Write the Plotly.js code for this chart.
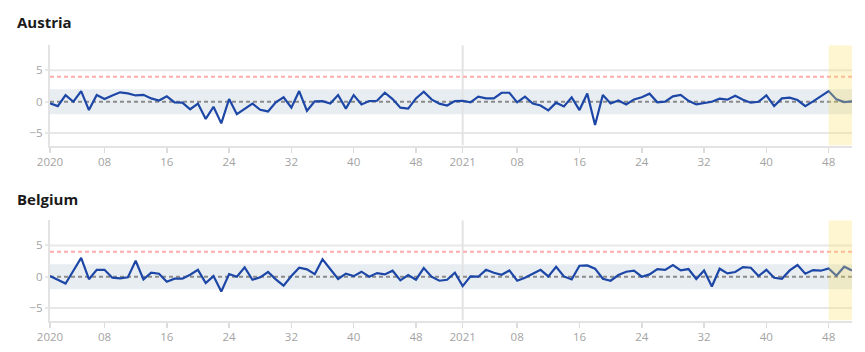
<!DOCTYPE html>
<html>
<head>
<meta charset="utf-8">
<script src="https://cdn.plot.ly/plotly-3.0.1.min.js"></script>
<style>
  html, body { margin: 0; padding: 0; background: #fff; }
  #chart { width: 865px; height: 352px; }
</style>
</head>
<body>
<div id="chart"></div>
<script>
// ISO weeks: 2020 W01..W53, 2021 W01..W51
const weeks = [];
for (let w = 1; w <= 53; w++) weeks.push('2020-W' + String(w).padStart(2, '0'));
for (let w = 1; w <= 51; w++) weeks.push('2021-W' + String(w).padStart(2, '0'));

const tickWeeks = ['2020-W01','2020-W08','2020-W16','2020-W24','2020-W32','2020-W40','2020-W48',
                   '2021-W01','2021-W08','2021-W16','2021-W24','2021-W32','2021-W40','2021-W48'];
const tickLabels = ['2020','08','16','24','32','40','48','2021','08','16','24','32','40','48'];

const austria = [
  -0.27, -0.7, 1.06, 0, 1.7, -1.33, 1.06, 0.43, 1.0, 1.5,
  1.33, 1.0, 1.1, 0.53, 0.2, 0.85, -0.1, -0.15, -1.2, -0.3,
  -2.75, -0.8, -3.45, 0.43, -2.0, -1.17, -0.3, -1.28, -1.55, -0.1,
  0.7, -0.95, 1.7, -1.45, 0.05, 0.1, -0.3, 1.06, -1.1, 1.06,
  -0.43, 0.1, 0.15, 1.43, 0.43, -0.95, -1.1, 0.53, 1.6, 0.37,
  -0.3, -0.6, 0.1, 0.15, -0.1, 0.8, 0.53, 0.53, 1.43, 1.43,
  -0.1, 0.8, -0.3, -0.6, -1.38, -0.15, -0.75, 0.7, -1.33, 1.3,
  -3.7, 1.06, -0.27, 0.2, -0.43, 0.37, 0.7, 1.28, -0.1, 0,
  0.85, 1.1, 0.15, -0.43, -0.2, 0, 0.48, 0.32, 0.96, 0.32,
  -0.15, 0, 1.0, -0.7, 0.53, 0.64, 0.27, -0.7, 0.05, 0.85,
  1.7, 0.37, -0.05, 0.05
];

const belgium = [
  0.1, -0.5, -1.1, 0.95, 3.0, -0.4, 1.1, 1.1, -0.15, -0.27,
  -0.1, 2.55, -0.43, 0.64, 0.48, -0.8, -0.32, -0.32, 0.32, 1.1,
  -1.0, 0.1, -2.35, 0.43, 0, 1.5, -0.48, -0.1, 0.75, -0.43,
  -1.43, 0.1, 1.43, 1.17, 0.4, 2.77, 1.2, -0.35, 0.48, 0.1,
  0.8, 0, 0.58, 0.37, 0.96, -0.58, 0.27, -0.48, 1.38, 0,
  -0.64, -0.48, 0.64, -1.5, 0.05, 0, 1.1, 0.64, 0.32, 1.0,
  -0.64, -0.15, 0.48, 1.1, 0.05, 1.6, 0.05, -0.43, 1.75, 1.8,
  1.28, -0.32, -0.64, 0.27, 0.8, 0.96, 0, 0.37, 1.22, 1.1,
  1.86, 1.0, 1.22, -0.37, 1.0, -1.55, 1.28, 0.53, 0.75, 1.54,
  1.43, 0.1, 1.1, -0.16, -0.32, 1.0, 1.86, 0.48, 1.06, 0.96,
  1.33, 0.16, 1.6, 1.0
];

const countries = ['Austria', 'Belgium'];
const series = [austria, belgium];

const bandLow = -2, bandHigh = 2, threshold = 4;
const highlightStart = '2021-W48';

const W = 865, H = 352;
const xDomain = [50 / W, 852 / W];
const yDomains = [[1 - 145.6 / H, 1 - 45.3 / H], [1 - 320.6 / H, 1 - 220.3 / H]];
const titleY = [1 - 22 / H, 1 - 199 / H];
const yRange = [-7, 9];

const lineColor = '#1d47a6';
const gridColor = '#e8e8e8';
const tickFont = { family: 'Open Sans, sans-serif', size: 11.5, color: '#a3a3a3' };

const traces = [];
const shapes = [];
const annotations = [];
const layout = {
  width: W, height: H,
  margin: { l: 0, r: 0, t: 0, b: 0 },
  paper_bgcolor: '#fff', plot_bgcolor: 'rgba(0,0,0,0)',
  showlegend: false,
  font: { family: 'Open Sans, sans-serif' }
};

const firstIdx = 0, lastIdx = weeks.length - 1;
const yr2021Idx = weeks.indexOf('2021-W01');
const hiIdx = weeks.indexOf(highlightStart);

countries.forEach((name, k) => {
  const xa = k === 0 ? 'xaxis' : 'xaxis2';
  const ya = k === 0 ? 'yaxis' : 'yaxis2';
  const xr = k === 0 ? 'x' : 'x2';
  const yr = k === 0 ? 'y' : 'y2';

  traces.push({
    x: weeks, y: series[k], type: 'scatter', mode: 'lines',
    xaxis: xr, yaxis: yr,
    line: { color: lineColor, width: 2.2 },
    hoverinfo: 'x+y'
  });

  layout[xa] = {
    domain: xDomain, anchor: yr, type: 'category',
    categoryorder: 'array', categoryarray: weeks,
    range: [firstIdx, lastIdx],
    tickmode: 'array', tickvals: tickWeeks, ticktext: tickLabels,
    ticks: 'outside', ticklen: 5, tickwidth: 1.5, tickcolor: '#dcdcdc',
    showline: true, linecolor: '#e3e3e3', linewidth: 2,
    showgrid: false, zeroline: false,
    tickfont: tickFont, fixedrange: true
  };
  layout[ya] = {
    domain: yDomains[k], anchor: xr,
    range: yRange, tickmode: 'array', tickvals: [-5, 0, 5],
    ticks: 'outside', ticklen: 3, tickwidth: 2, tickcolor: gridColor,
    showline: true, linecolor: '#e3e3e3', linewidth: 2,
    showgrid: false, zeroline: false,
    tickfont: tickFont, fixedrange: true
  };

  // normal band
  shapes.push({ type: 'rect', xref: xr, yref: yr, x0: firstIdx, x1: lastIdx, y0: bandLow, y1: bandHigh,
    fillcolor: '#e8edf2', line: { width: 0 }, layer: 'below' });
  // gridlines at +-5
  [-5, 5].forEach(v => shapes.push({ type: 'line', xref: xr, yref: yr, x0: firstIdx, x1: lastIdx, y0: v, y1: v,
    line: { color: gridColor, width: 2 }, layer: 'below' }));
  // year separator
  shapes.push({ type: 'line', xref: xr, yref: yr, x0: yr2021Idx, x1: yr2021Idx, y0: yRange[0], y1: yRange[1],
    line: { color: '#e3e3e3', width: 2 }, layer: 'below' });
  // threshold line
  shapes.push({ type: 'line', xref: xr, yref: yr, x0: firstIdx, x1: lastIdx, y0: threshold, y1: threshold,
    line: { color: '#ffacac', width: 2, dash: '4px,3px' }, layer: 'below' });
  // zero line
  shapes.push({ type: 'line', xref: xr, yref: yr, x0: firstIdx, x1: lastIdx, y0: 0, y1: 0,
    line: { color: '#8a8a8a', width: 2, dash: '4px,3px' }, layer: 'below' });
  // highlight of latest weeks
  shapes.push({ type: 'rect', xref: xr, yref: yr, x0: hiIdx, x1: lastIdx, y0: yRange[0], y1: yRange[1],
    fillcolor: 'rgba(248,226,100,0.3)', line: { width: 0 }, layer: 'above' });

  annotations.push({
    text: '<b>' + name + '</b>', xref: 'paper', yref: 'paper',
    x: 15 / W, y: titleY[k], xanchor: 'left', yanchor: 'middle', showarrow: false,
    font: { family: 'Open Sans, sans-serif', size: 15, color: '#1a1a1a' }
  });
});

layout.shapes = shapes;
layout.annotations = annotations;

Plotly.newPlot('chart', traces, layout, { displayModeBar: false, staticPlot: true });
</script>
</body>
</html>
